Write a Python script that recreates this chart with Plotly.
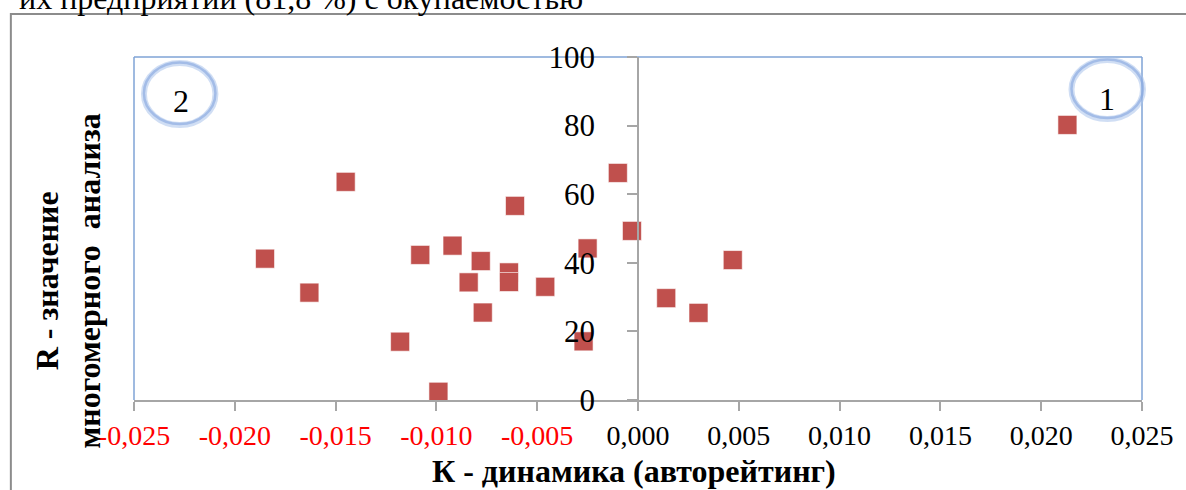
import plotly.graph_objects as go

# ---- data ----
k_values = [-0.0185, -0.0163, -0.0145, -0.0118, -0.0108, -0.0099, -0.0092, -0.0084,
            -0.0078, -0.0077, -0.0064, -0.0064, -0.0061, -0.0046, -0.0027, -0.0025,
            -0.0010, -0.0003, 0.0014, 0.0030, 0.0047, 0.0213]
r_values = [41.2, 31.3, 63.6, 17.0, 42.3, 2.4, 45.0, 34.3,
            40.5, 25.5, 37.2, 34.4, 56.6, 33.0, 17.1, 44.2,
            66.2, 49.3, 29.7, 25.4, 40.8, 80.2]
x_ticks = [-0.025, -0.020, -0.015, -0.010, -0.005, 0.0, 0.005, 0.010, 0.015, 0.020, 0.025]
y_ticks = [0, 20, 40, 60, 80, 100]

x_title = "К - динамика (авторейтинг)"
y_title = "R - значение<br>многомерного\u00a0 анализа"
top_text = "их предприятий (81,8 %) с окупаемостью"

# ---- layout geometry ----
W, H = 1186, 490
L, R, T, B = 134, 1149, 57, 400


def px(xp):
    return (xp - L) / (R - L)


def py(yp):
    return (B - yp) / (B - T)


def fmt(v):
    s = f"{v:.3f}".replace(".", ",")
    if v < 0:
        return f'<span style="color:#ff0000">{s}</span>'
    return s


SERIF = "Liberation Serif"

fig = go.Figure()
fig.add_trace(go.Scatter(
    x=k_values, y=r_values, mode="markers",
    marker=dict(symbol="square", size=19, color="#c0504d",
                line=dict(color="rgba(255,255,255,0.6)", width=1)),
    cliponaxis=False, showlegend=False, hoverinfo="x+y",
))

ring_soft = "rgba(170,195,235,0.55)"
ring_main = "rgba(125,160,220,0.55)"
shapes = [
    # outer chart border
    dict(type="rect", xref="paper", yref="paper", x0=px(10), x1=px(1200), y0=py(14), y1=py(520),
         line=dict(color="#8c8c8c", width=2), layer="below"),
    # plot area border (blue) top/left/right
    dict(type="line", xref="paper", yref="paper", x0=0, x1=1, y0=1, y1=1,
         line=dict(color="#7fa3d6", width=1.5), layer="below"),
    dict(type="line", xref="paper", yref="paper", x0=0, x1=0, y0=0, y1=1,
         line=dict(color="#7fa3d6", width=1.5), layer="below"),
    dict(type="line", xref="paper", yref="paper", x0=1, x1=1, y0=0, y1=1,
         line=dict(color="#7fa3d6", width=1.5), layer="below"),
    # quadrant circles (soft glow + main ring)
    dict(type="circle", xref="paper", yref="paper", x0=px(144), x1=px(216), y0=py(63), y1=py(125),
         line=dict(color=ring_soft, width=6)),
    dict(type="circle", xref="paper", yref="paper", x0=px(144), x1=px(216), y0=py(62.5), y1=py(124),
         line=dict(color=ring_main, width=2.5)),
    dict(type="circle", xref="paper", yref="paper", x0=px(1078), x1=px(1150), y0=py(60), y1=py(119),
         line=dict(color=ring_soft, width=6)),
    dict(type="circle", xref="paper", yref="paper", x0=px(1078), x1=px(1150), y0=py(59.5), y1=py(118),
         line=dict(color=ring_main, width=2.5)),
]

annotations = [
    dict(text="2", xref="paper", yref="paper", x=px(181), y=py(101), showarrow=False,
         font=dict(family=SERIF, size=32, color="#000000"), xanchor="center", yanchor="middle"),
    dict(text="1", xref="paper", yref="paper", x=px(1114), y=py(99), showarrow=False,
         font=dict(family=SERIF, size=32, color="#000000"), xanchor="center", yanchor="middle"),
    dict(text=x_title, xref="paper", yref="paper", x=px(637), y=py(471), showarrow=False,
         font=dict(family=SERIF, size=32, color="#000000", weight="bold"),
         xanchor="center", yanchor="middle"),
    dict(text=y_title, xref="paper", yref="paper", x=px(68), y=py(281), showarrow=False,
         textangle=-90, font=dict(family=SERIF, size=32, color="#000000", weight="bold"),
         xanchor="center", yanchor="middle"),
    dict(text=top_text, xref="paper", yref="paper", x=px(588), y=py(-2), showarrow=False,
         font=dict(family=SERIF, size=32, color="#000000"), xanchor="right", yanchor="middle"),
]

fig.update_layout(
    width=W, height=H,
    margin=dict(l=L, r=W - R, t=T, b=H - B, pad=0),
    paper_bgcolor="#ffffff", plot_bgcolor="#ffffff",
    shapes=shapes, annotations=annotations,
    xaxis=dict(
        range=[-0.025, 0.025], tickvals=x_ticks, ticktext=[fmt(v) for v in x_ticks],
        showgrid=False, zeroline=False, showline=True, linecolor="#a6a6a6", linewidth=1.5,
        ticks="outside", ticklen=9, tickcolor="#a6a6a6", tickwidth=1.5,
        tickfont=dict(family=SERIF, size=28, color="#000000"), ticklabelstandoff=1,
        fixedrange=True,
    ),
    yaxis=dict(
        range=[0, 100], tickvals=y_ticks, ticktext=[str(v) for v in y_ticks],
        anchor="free", position=0.5,
        showgrid=False, zeroline=False, showline=True, linecolor="#a6a6a6", linewidth=1.5,
        ticks="outside", ticklen=10, tickcolor="#a6a6a6", tickwidth=1.5,
        tickfont=dict(family=SERIF, size=31, color="#000000"), ticklabelstandoff=26,
        fixedrange=True,
    ),
)

fig.write_html(
    "out.html",
    config={"displayModeBar": False},
    post_script="document.body.style.margin='0';document.body.style.overflow='hidden';",
)
